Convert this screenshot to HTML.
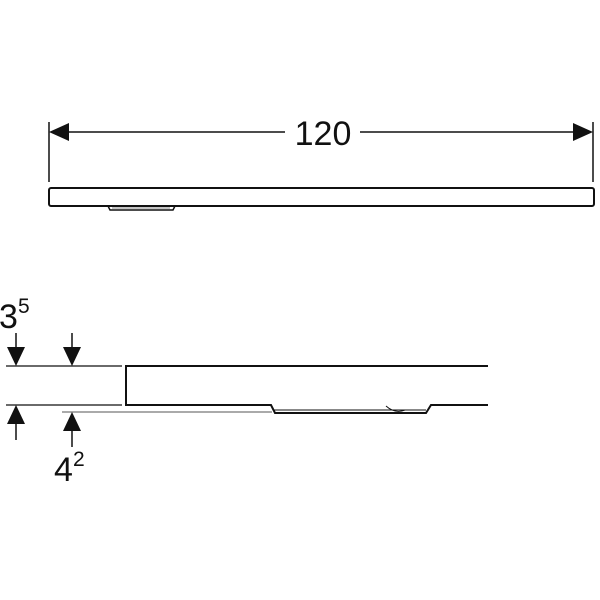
<!DOCTYPE html>
<html><head><style>body{margin:0;background:#fff}svg{display:block}</style></head><body>
<svg width="600" height="600" viewBox="0 0 600 600" xmlns="http://www.w3.org/2000/svg" font-family="Liberation Sans, sans-serif">
<g stroke="#111" fill="none" stroke-width="1.5">
<line x1="49" y1="122" x2="49" y2="182"/>
<line x1="593" y1="122" x2="593" y2="182"/>
<line x1="66" y1="132" x2="285" y2="132"/>
<line x1="360" y1="132" x2="576" y2="132"/>
<rect x="49" y="188" width="545" height="18" rx="2" stroke-width="2"/>
<path d="M108 206 L110 210 L173 210 L175 206" stroke-width="1.5"/>
<line x1="112" y1="208" x2="170" y2="208" stroke="#888" stroke-width="1"/>
<path d="M488 366 L126 366 L126 405 L271 405 L275 413 L426 413 L431 405 L488 405" stroke-width="2"/>
<path d="M274 410 L426 410" stroke-width="1"/>
<path d="M386 406 Q395 414 405 410 L425 410" stroke-width="1"/>
<line x1="6" y1="366" x2="122" y2="366" stroke-width="1.2"/>
<line x1="6" y1="405" x2="122" y2="405" stroke-width="1.2"/>
<line x1="62" y1="412" x2="272" y2="412" stroke="#777" stroke-width="1.2"/>
<line x1="16" y1="333" x2="16" y2="355"/>
<line x1="72" y1="333" x2="72" y2="355"/>
<line x1="16" y1="418" x2="16" y2="440"/>
<line x1="72" y1="425" x2="72" y2="447"/>
</g>
<g fill="#111">
<polygon points="49,132 69,123 69,141"/>
<polygon points="593,132 573,123 573,141"/>
<polygon points="16,366 7,347 25,347"/>
<polygon points="72,366 63,347 81,347"/>
<polygon points="16,405 7,424 25,424"/>
<polygon points="72,412 63,431 81,431"/>
</g>
<text x="323" y="145" font-size="34" text-anchor="middle" fill="#111">120</text>
<text x="-1" y="328" font-size="34" fill="#111">3</text>
<text x="18" y="313" font-size="21" fill="#111">5</text>
<text x="54" y="481" font-size="34" fill="#111">4</text>
<text x="73" y="466" font-size="21" fill="#111">2</text>
</svg>
</body></html>
